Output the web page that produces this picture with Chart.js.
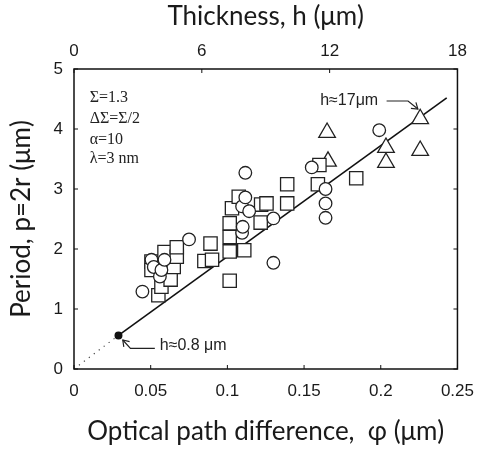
<!DOCTYPE html>
<html>
<head>
<meta charset="utf-8">
<script src="https://cdn.jsdelivr.net/npm/chart.js@4.4.1/dist/chart.umd.min.js"></script>
<style>
  html, body { margin: 0; padding: 0; background: #fff; }
</style>
</head>
<body>
<canvas id="chart" width="486" height="451"></canvas>
<script>
// optical path difference (um) and period (um) for each marker type
const squarePhi = [0.0505, 0.0505, 0.055, 0.057, 0.059, 0.063, 0.065, 0.067, 0.067,
                   0.085, 0.090, 0.089,
                   0.1015, 0.1015, 0.1015, 0.1015, 0.103, 0.1074, 0.111, 0.1217, 0.122, 0.1255,
                   0.139, 0.139, 0.159, 0.160, 0.184];
const squareP   = [1.79, 1.65, 1.23, 1.37, 1.95, 1.49, 1.70, 1.87, 2.03,
                   1.80, 1.82, 2.09,
                   1.47, 1.96, 2.20, 2.43, 2.68, 2.87, 1.98, 2.44, 2.74, 2.76,
                   2.76, 3.08, 3.08, 3.40, 3.18];

const circlePhi = [0.0446, 0.0505, 0.052, 0.056, 0.057, 0.059, 0.075,
                   0.1096, 0.110, 0.1096, 0.1117, 0.1142, 0.1117,
                   0.130, 0.130, 0.155, 0.164, 0.164, 0.164, 0.199];
const circleP   = [1.29, 1.82, 1.70, 1.54, 1.65, 1.82, 2.16,
                   2.27, 2.37, 2.71, 2.86, 2.63, 3.27,
                   2.51, 1.77, 3.36, 3.00, 2.76, 2.52, 3.98];

const trianglePhi = [0.165, 0.1656, 0.2034, 0.2034, 0.2257, 0.2257];
const triangleP   = [3.94, 3.46, 3.69, 3.44, 4.17, 3.64];

// fitted line and its dotted extension to the origin
const fitPhi = [0.029, 0.243];
const fitP   = [0.56, 4.52];
const extPhi = [0, 0.029];
const extP   = [0, 0.56];

const phiTicks = [0, 0.05, 0.1, 0.15, 0.2, 0.25];
const periodTicks = [0, 1, 2, 3, 4, 5];
const thicknessTicks = [0, 6, 12, 18];

const paramLines = ['Σ=1.3', 'ΔΣ=Σ/2', 'α=10', 'λ=3 nm'];

const pts = (xs, ys) => xs.map((x, i) => ({ x: x, y: ys[i] }));
const fixTicks = list => scale => { scale.ticks = list.map(v => ({ value: v })); };

function arrow(ctx, p) {
  ctx.beginPath();
  ctx.moveTo(p[0][0], p[0][1]);
  for (let i = 1; i < p.length; i++) ctx.lineTo(p[i][0], p[i][1]);
  ctx.stroke();
  const [a, b] = [p[p.length - 2], p[p.length - 1]];
  const ang = Math.atan2(b[1] - a[1], b[0] - a[0]);
  ctx.beginPath();
  ctx.moveTo(b[0] - 7 * Math.cos(ang - 0.6), b[1] - 7 * Math.sin(ang - 0.6));
  ctx.lineTo(b[0], b[1]);
  ctx.lineTo(b[0] - 7 * Math.cos(ang + 0.6), b[1] - 7 * Math.sin(ang + 0.6));
  ctx.stroke();
}

const framePlugin = {
  id: 'frame',
  afterDraw(chart) {
    const { ctx, chartArea: a, scales } = chart;
    const X = v => scales.x.getPixelForValue(v);
    const Y = v => scales.y.getPixelForValue(v);
    ctx.save();
    ctx.strokeStyle = '#111';
    ctx.lineWidth = 1.5;
    ctx.strokeRect(a.left, a.top, a.right - a.left, a.bottom - a.top);
    // inward tick marks
    ctx.lineWidth = 1;
    ctx.beginPath();
    phiTicks.forEach(v => { const px = X(v); ctx.moveTo(px, a.bottom); ctx.lineTo(px, a.bottom - 4); });
    thicknessTicks.forEach(v => { const px = scales.x2.getPixelForValue(v); ctx.moveTo(px, a.top); ctx.lineTo(px, a.top + 4); });
    periodTicks.forEach(v => {
      const py = Y(v);
      ctx.moveTo(a.left, py); ctx.lineTo(a.left + 4, py);
      ctx.moveTo(a.right, py); ctx.lineTo(a.right - 4, py);
    });
    ctx.stroke();

    // parameter block
    ctx.fillStyle = '#222';
    ctx.textBaseline = 'middle';
    ctx.font = '16px "Liberation Serif"';
    const paramP = [4.525, 4.167, 3.822, 3.5];
    paramLines.forEach((t, i) => ctx.fillText(t, X(0.0102), Y(paramP[i])));

    // labels with arrows
    ctx.font = '16px "Liberation Sans"';
    ctx.fillText('h≈17μm', X(0.1605), Y(4.467));
    ctx.fillText('h≈0.8 μm', X(0.0559), Y(0.39));
    ctx.strokeStyle = '#222';
    ctx.lineWidth = 1.2;
    arrow(ctx, [[X(0.2038), Y(4.467)], [X(0.2178), Y(4.467)], [X(0.2242), Y(4.333)]]);
    arrow(ctx, [[X(0.0527), Y(0.345)], [X(0.0368), Y(0.345)], [X(0.0318), Y(0.483)]]);
    ctx.restore();
  }
};

const marker = (label, data, style, radius, order) => ({
  label: label,
  data: data,
  pointStyle: style,
  pointRadius: radius,
  pointBorderWidth: 1.3,
  pointBorderColor: '#222',
  pointBackgroundColor: '#fff',
  order: order
});

Chart.defaults.font.family = '"Liberation Sans", Arial, sans-serif';
Chart.defaults.color = '#1a1a1a';

const titleFont = { family: 'Lato', size: 26 };

new Chart(document.getElementById('chart'), {
  type: 'scatter',
  data: {
    datasets: [
      marker('circles', pts(circlePhi, circleP), 'circle', 6.3, 1),
      marker('squares', pts(squarePhi, squareP), 'rect', 9.4, 2),
      marker('triangles', pts(trianglePhi, triangleP), 'triangle', 9.6, 3),
      {
        label: 'fit',
        data: pts(fitPhi, fitP),
        showLine: true,
        borderColor: '#111',
        borderWidth: 1.6,
        pointRadius: [3.2, 0],
        pointBackgroundColor: '#111',
        pointBorderColor: '#111',
        order: 4
      },
      {
        label: 'extension',
        data: pts(extPhi, extP),
        showLine: true,
        borderColor: '#444',
        borderWidth: 1.2,
        borderDash: [1.2, 5],
        pointRadius: 0,
        order: 5
      }
    ]
  },
  options: {
    responsive: false,
    animation: false,
    events: [],
    layout: { padding: { left: 0, right: 19, top: 0, bottom: 0 } },
    plugins: { legend: { display: false }, tooltip: { enabled: false } },
    scales: {
      x: {
        type: 'linear', position: 'bottom', min: 0, max: 0.25,
        afterBuildTicks: fixTicks(phiTicks),
        afterFit: s => { s.height = 82; },
        grid: { display: false, drawTicks: false },
        border: { display: false },
        ticks: { padding: 12, font: { size: 17 }, callback: v => String(+v.toFixed(2)) },
        title: { display: true, text: 'Optical path difference,  φ (μm)', font: titleFont, padding: { bottom: 4 } }
      },
      x2: {
        type: 'linear', axis: 'x', position: 'top', min: 0, max: 18,
        afterBuildTicks: fixTicks(thicknessTicks),
        afterFit: s => { s.height = 69; },
        grid: { display: false, drawTicks: false },
        border: { display: false },
        ticks: { padding: 7, font: { size: 17 } },
        title: { display: true, text: 'Thickness, h (μm)', font: titleFont, padding: { top: 1 } }
      },
      y: {
        type: 'linear', position: 'left', min: 0, max: 5,
        afterBuildTicks: fixTicks(periodTicks),
        afterFit: s => { s.width = 74; },
        grid: { display: false, drawTicks: false },
        border: { display: false },
        ticks: { padding: 11, font: { size: 17 } },
        title: { display: true, text: 'Period, p=2r (μm)', font: titleFont, padding: { top: 6 } }
      }
    }
  },
  plugins: [framePlugin]
});
</script>
</body>
</html>
